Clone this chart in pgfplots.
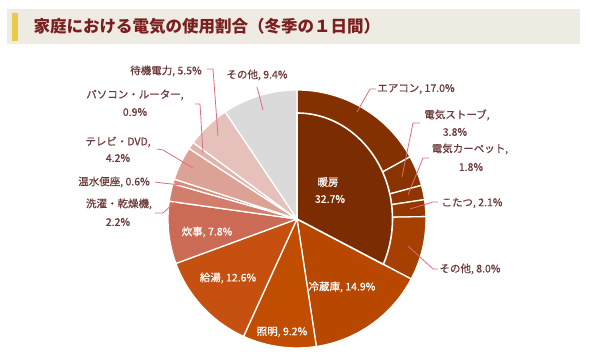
\documentclass[border=0pt]{standalone}
\usepackage{pgfplots}
\pgfplotsset{compat=1.18}
\usepackage{fontspec}
\setmainfont{Noto Sans CJK JP}
\newfontfamily\lblfont[FakeBold=0.6]{Noto Sans CJK JP}
\definecolor{titlebg}{HTML}{EEEBE3}
\definecolor{titleyel}{HTML}{EACB45}
\definecolor{titlered}{HTML}{7A1E1E}
\definecolor{ctext}{HTML}{6B3A3A}
\definecolor{clead}{HTML}{E06C78}
\definecolor{cIN}{HTML}{7B2C00}
\definecolor{cAC}{HTML}{843000}
\definecolor{cST}{HTML}{893300}
\definecolor{cCP}{HTML}{8E3500}
\definecolor{cKT}{HTML}{943800}
\definecolor{cHO}{HTML}{A64000}
\definecolor{cRF}{HTML}{B84800}
\definecolor{cLT}{HTML}{C04D00}
\definecolor{cHW}{HTML}{C55010}
\definecolor{cCK}{HTML}{CB6A55}
\definecolor{cWS}{HTML}{D27E6D}
\definecolor{cTL}{HTML}{D68B7C}
\definecolor{cTV}{HTML}{DDA296}
\definecolor{cPC}{HTML}{E2B3AA}
\definecolor{cSB}{HTML}{E6C1BB}
\definecolor{cOT}{HTML}{DADADA}
\begin{document}
\begin{tikzpicture}[x=1pt,y=1pt]
\useasboundingbox (0,0) rectangle (590,358);
\begin{axis}[at={(0,0)},anchor=south west,scale only axis,width=590pt,height=358pt,
  xmin=0,xmax=590,ymin=0,ymax=358,hide axis,clip=false]
% title
\fill[titlebg] (axis cs:7,314) rectangle (axis cs:580,349);
\fill[titleyel] (axis cs:12,317) rectangle (axis cs:18,345);
\node[anchor=west,text=titlered,font=\fontsize{16.5}{18}\selectfont\bfseries] at (axis cs:30,332) {家庭における電気の使用割合（冬季の１日間）};
% pie (outer ring), values in percent, clockwise from top
\xdef\pcum{0}
\foreach \pv/\pc in {17.0/cAC, 3.8/cST, 1.8/cCP, 2.1/cKT, 8.0/cHO, 14.9/cRF, 9.2/cLT, 12.6/cHW, 7.8/cCK, 2.2/cWS, 0.6/cTL, 4.2/cTV, 0.9/cPC, 5.5/cSB, 9.4/cOT}{
  \pgfmathsetmacro\pa{90-3.6*\pcum}
  \pgfmathsetmacro\pb{90-3.6*(\pcum+\pv)}
  \edef\ptemp{\noexpand\filldraw[fill=\pc,draw=white,line width=1.3pt,line join=round] (axis cs:297,139) -- ++(\pa:129pt) arc[start angle=\pa,end angle=\pb,radius=129pt] -- cycle;}
  \ptemp
  \pgfmathsetmacro\pn{\pcum+\pv}
  \xdef\pcum{\pn}
}
% inner heating wedge 32.7
\pgfmathsetmacro\phd{90-3.6*32.7}
\pgfmathsetmacro\pht{atan(tan(\phd)*95.5/106)}
\edef\ptemp{\noexpand\filldraw[fill=cIN,draw=white,line width=1.6pt,line join=round] (axis cs:297,139) -- ++(0pt,106pt) arc[start angle=90,end angle=\pht,x radius=95.5pt,y radius=106pt] -- cycle;}
\ptemp
% leaders
\begin{scope}[clead,line width=0.8pt]
\draw (axis cs:357,246) -- (axis cs:370,269) -- (axis cs:376,269);
\draw (axis cs:402,181) -- (axis cs:413,235) -- (axis cs:420,235);
\draw (axis cs:408,163) -- (axis cs:423,200) -- (axis cs:429,200);
\draw (axis cs:410,149) -- (axis cs:433,156) -- (axis cs:438,156);
\draw (axis cs:408,112) -- (axis cs:433,89) -- (axis cs:438,89);
\draw (axis cs:218,222) -- (axis cs:213,289) -- (axis cs:207,289);
\draw (axis cs:263,248) -- (axis cs:257,271);
\draw (axis cs:203,205) -- (axis cs:200,254) -- (axis cs:195,254);
\draw (axis cs:193,190) -- (axis cs:163,208) -- (axis cs:157,209);
\draw (axis cs:181,173) -- (axis cs:162,175) -- (axis cs:155,176);
\draw (axis cs:175,156) -- (axis cs:163,145) -- (axis cs:155,145);
\end{scope}
% outside labels
\begin{scope}[every node/.style={text=ctext,font=\lblfont\fontsize{10.5}{12}\selectfont,inner sep=0pt}]
\node at (axis cs:416,269) {エアコン, 17.0\%};
\node at (axis cs:457,243) {電気ストーブ,};
\node at (axis cs:455,226) {3.8\%};
\node at (axis cs:470,209) {電気カーペット,};
\node at (axis cs:471,191) {1.8\%};
\node at (axis cs:472,155) {こたつ, 2.1\%};
\node at (axis cs:470,89) {その他, 8.0\%};
\node at (axis cs:166,287) {待機電力, 5.5\%};
\node at (axis cs:257,283) {その他, 9.4\%};
\node at (axis cs:135,263) {パソコン・ルーター,};
\node at (axis cs:135,246) {0.9\%};
\node at (axis cs:118,216) {テレビ・DVD,};
\node at (axis cs:118,200) {4.2\%};
\node at (axis cs:114,176) {温水便座, 0.6\%};
\node at (axis cs:119,154) {洗濯・乾燥機,};
\node at (axis cs:118,136) {2.2\%};
\end{scope}
% inside labels
\begin{scope}[every node/.style={text=white,font=\lblfont\fontsize{10.5}{12}\selectfont,inner sep=0pt}]
\node at (axis cs:328,176) {暖房};
\node at (axis cs:330,159) {32.7\%};
\node at (axis cs:342,71) {冷蔵庫, 14.9\%};
\node at (axis cs:282,26) {照明, 9.2\%};
\node at (axis cs:228,80) {給湯, 12.6\%};
\node at (axis cs:207,126) {炊事, 7.8\%};
\end{scope}
\end{axis}
\end{tikzpicture}
\end{document}
